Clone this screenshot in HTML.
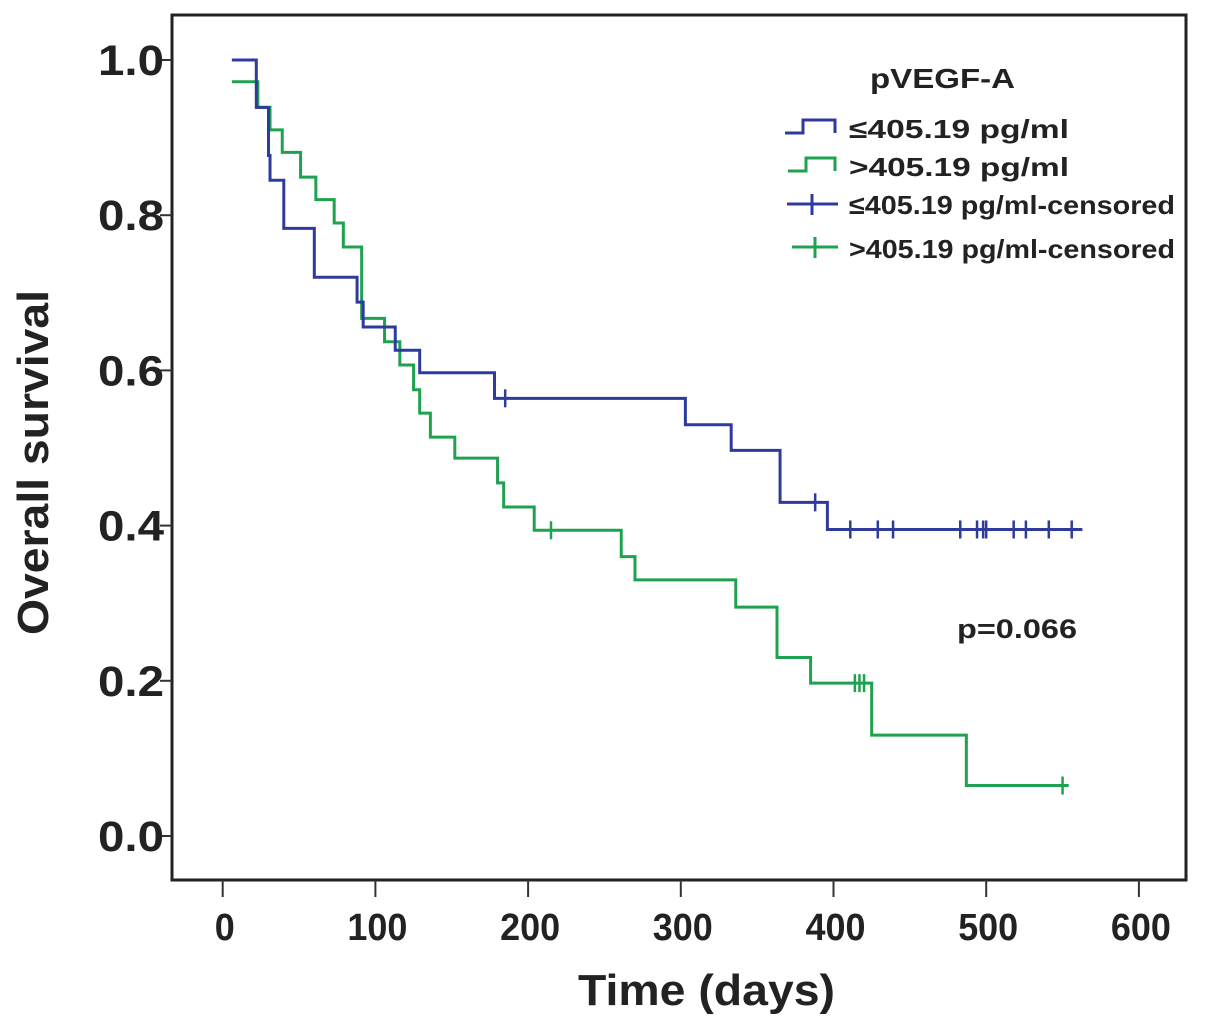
<!DOCTYPE html>
<html><head><meta charset="utf-8"><style>
html,body{margin:0;padding:0;background:#fff;}
svg{display:block;font-family:"Liberation Sans",Arial,sans-serif;font-weight:bold;}
</style></head><body>
<svg id="chart" width="1205" height="1028" viewBox="0 0 1205 1028">
<rect x="172" y="15" width="1014" height="865" fill="none" stroke="#222" stroke-width="3"/>
<g id="xticks"></g>
<g id="yticks"></g>
<text x="578" y="1005" font-size="44" textLength="257" lengthAdjust="spacingAndGlyphs" fill="#222">Time (days)</text>
<text transform="translate(48,635) rotate(-90)" font-size="44" textLength="345" lengthAdjust="spacingAndGlyphs" fill="#222">Overall survival</text>
<g id="series"></g>
<g>
<text x="870" y="88" font-size="28" textLength="145" lengthAdjust="spacingAndGlyphs" fill="#222">pVEGF-A</text>
<g><path d="M785 133 H803 V120 H835 V133" fill="none" stroke="#2e3b9c" stroke-width="3"/><text x="849" y="138" font-size="26" textLength="220" lengthAdjust="spacingAndGlyphs" fill="#222">≤405.19 pg/ml</text></g>
<g><path d="M788 171 H806 V158 H835 V171" fill="none" stroke="#1fa24f" stroke-width="3"/><text x="849" y="176" font-size="26" textLength="220" lengthAdjust="spacingAndGlyphs" fill="#222">&gt;405.19 pg/ml</text></g>
<g><path d="M787 204 H838 M812 194 V215" fill="none" stroke="#2e3b9c" stroke-width="3"/><text x="849" y="214" font-size="26" textLength="326" lengthAdjust="spacingAndGlyphs" fill="#222">≤405.19 pg/ml-censored</text></g>
<g><path d="M792 247 H838 M815 237 V258" fill="none" stroke="#1fa24f" stroke-width="3"/><text x="849" y="258" font-size="26" textLength="326" lengthAdjust="spacingAndGlyphs" fill="#222">&gt;405.19 pg/ml-censored</text></g>
</g>
<text x="957" y="638" font-size="27" textLength="120" lengthAdjust="spacingAndGlyphs" fill="#222">p=0.066</text>
</svg>
<script>
const xTicks=[0,100,200,300,400,500,600];
const yTicks=[0,0.2,0.4,0.6,0.8,1.0];
const yTickLabels=["0.0","0.2","0.4","0.6","0.8","1.0"];
const lowTimes=[6,22,30,31,40,60,88,92,113,129,178,303,333,365,396,563];
const lowSurv=[1.0,0.939,0.877,0.845,0.783,0.72,0.688,0.656,0.626,0.597,0.564,0.53,0.497,0.43,0.395,0.395];
const lowCensor=[185,388,411,429,439,483,494,498,500,518,526,541,556];
const highTimes=[6,23,31,39,51,61,73,79,91,106,116,125,129,136,152,180,184,204,261,270,336,363,385,425,487,554];
const highSurv=[0.972,0.939,0.91,0.881,0.849,0.82,0.79,0.759,0.667,0.637,0.607,0.575,0.545,0.514,0.487,0.455,0.424,0.394,0.36,0.33,0.295,0.23,0.197,0.13,0.065,0.065];
const highCensor=[215,414,417,420,550];
const X=t=>222.7+1.527*t, Y=s=>836-776*s;
const NS="http://www.w3.org/2000/svg";
function mk(tag,attrs,parent){const e=document.createElementNS(NS,tag);for(const k in attrs)e.setAttribute(k,attrs[k]);parent.appendChild(e);return e;}
const xg=document.getElementById('xticks'),yg=document.getElementById('yticks'),sg=document.getElementById('series');
xTicks.forEach(t=>{
 const l=mk('line',{x1:X(t),x2:X(t),y1:880,y2:897,stroke:'#333','stroke-width':2},xg);
 
 
 const w=String(t).length*20;
 const tx=mk('text',{x:X(t)+2-w/2,y:940,'font-size':38,textLength:w,lengthAdjust:'spacingAndGlyphs',fill:'#222'},xg);tx.textContent=t;
 
 
});
yTicks.forEach((v,i)=>{
 const l=mk('line',{x1:160,x2:172,y1:Y(v),y2:Y(v),stroke:'#333','stroke-width':2},yg);
 
 
 const tx=mk('text',{x:98,y:Y(v)+15,'font-size':43,textLength:66,lengthAdjust:'spacingAndGlyphs',fill:'#222'},yg);tx.textContent=yTickLabels[i];
 
 
});
function step(times,surv){let d='M'+X(times[0])+' '+Y(surv[0]);for(let i=1;i<times.length;i++){d+=' H'+X(times[i])+' V'+Y(surv[i]);}return d;}
function survAt(times,surv,t){let s=surv[0];for(let i=0;i<times.length;i++){if(times[i]<=t)s=surv[i];}return s;}
function draw(times,surv,cens,color,name){
 const p=mk('path',{d:step(times,surv),fill:'none',stroke:color,'stroke-width':3},sg);
 
 
 cens.forEach(t=>{const s=survAt(times,surv,t);
  const c=mk('path',{d:'M'+X(t)+' '+(Y(s)-9)+' V'+(Y(s)+9),stroke:color,'stroke-width':2.5},sg);
  
  });
}
draw(highTimes,highSurv,highCensor,'#1fa24f','high-group');
draw(lowTimes,lowSurv,lowCensor,'#2e3b9c','low-group');
</script>
</body></html>
